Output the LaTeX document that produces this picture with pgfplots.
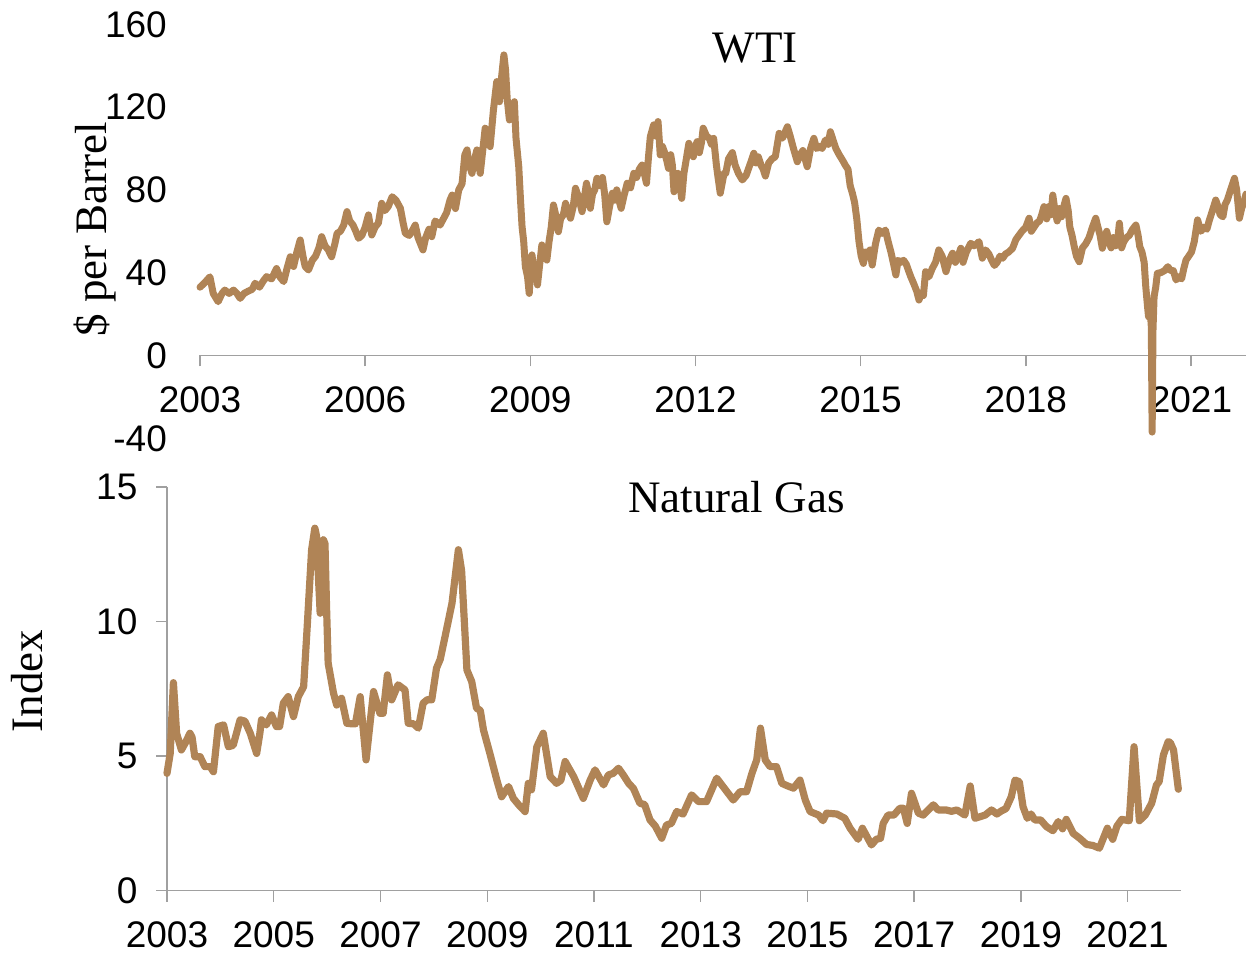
\documentclass[border=0pt]{standalone}
\usepackage{fontspec}
\setmainfont{Liberation Serif}
\newfontfamily\sansf{Liberation Sans}
\usepackage{pgfplots}
\pgfplotsset{compat=1.18}
\definecolor{oil}{RGB}{176,132,86}
\definecolor{axgray}{RGB}{160,160,160}
\pgfplotsset{
  common/.style={
    scale only axis,
    clip=false,
    /pgf/number format/assume math mode=true,
    /pgf/number format/1000 sep={},
    tick label style={font=\sansf\fontsize{18.5}{20}\selectfont},
    label style={font=\fontsize{22.5}{26}\selectfont},
    major tick length=5.5pt,
    tick align=outside,
    tick style={draw=axgray, line width=0.7pt},
    hide obscured x ticks=false,
    hide obscured y ticks=false,
  },
}
\begin{document}
\begin{tikzpicture}
\useasboundingbox (0,0) rectangle (623pt,476.5pt);
% ---------------- WTI ----------------
\begin{axis}[common,
  at={(100pt,257.35pt)}, anchor=south west,
  width=523pt, height=207pt,
  xmin=2003, xmax=2022, ymin=-40, ymax=160,
  axis x line=middle, axis y line=left,
  x axis line style={draw=axgray, line width=0.7pt, -},
  every inner x axis line/.append style={-},
  y axis line style={draw=none, -},
  ytick style={draw=none},
  xtick style={yshift=-2.75pt},
  xtick={2003,2006,2009,2012,2015,2018,2021},
  ytick={-40,0,40,80,120,160},
  xticklabel style={anchor=north, yshift=-9.3pt},
  yticklabel style={anchor=east, xshift=-10.3pt},
  ylabel={\$ per Barrel},
  ylabel style={at={(axis description cs:-0.1004,0.5055)}, anchor=center, rotate=0},
]
\addplot[oil, line width=3.5pt, line join=round, line cap=round] coordinates {
(2003.00,33) (2003.08,35) (2003.18,38) (2003.24,30) (2003.33,26) (2003.40,30) (2003.45,31.6) (2003.53,30) (2003.61,31.6) (2003.67,30) (2003.73,27.6) (2003.80,30) (2003.87,31) (2003.95,32)
(2004.00,34.9) (2004.08,33) (2004.15,36) (2004.21,38.1) (2004.30,37) (2004.39,42) (2004.45,38) (2004.52,35.7) (2004.58,42) (2004.64,47.7) (2004.70,43) (2004.76,50) (2004.82,55.8) (2004.87,48) (2004.91,43) (2004.97,41.3)
(2005.04,46) (2005.10,48) (2005.16,52) (2005.21,57.4) (2005.27,53) (2005.33,51) (2005.39,47.7) (2005.45,54) (2005.49,59) (2005.55,60) (2005.61,63) (2005.67,69.5) (2005.72,65) (2005.78,63) (2005.83,60) (2005.88,56.6) (2005.94,58)
(2006.00,62) (2006.06,67.9) (2006.12,58.2) (2006.18,62) (2006.24,64) (2006.30,73.5) (2006.36,70) (2006.42,72) (2006.49,76.7) (2006.56,75) (2006.64,71.1) (2006.69,64) (2006.73,59) (2006.80,58) (2006.85,60) (2006.91,63) (2006.96,57)
(2007.05,51) (2007.10,57) (2007.16,61) (2007.21,57.4) (2007.27,65) (2007.36,63) (2007.42,66) (2007.48,69) (2007.54,75) (2007.58,77.5) (2007.64,71) (2007.70,80) (2007.76,83) (2007.81,96.9) (2007.85,99.3) (2007.89,92) (2007.94,88) (2007.99,95)
(2008.03,99.3) (2008.09,88) (2008.14,100) (2008.18,109.8) (2008.23,106) (2008.27,100.9) (2008.33,118.6) (2008.39,132.3) (2008.44,122.6) (2008.48,135) (2008.52,145.2) (2008.55,138) (2008.58,124) (2008.62,113.8) (2008.66,118) (2008.71,122.6) (2008.74,105) (2008.79,91.2) (2008.82,76) (2008.85,62.2) (2008.88,55) (2008.91,42.9) (2008.95,38) (2008.98,30)
(2009.01,43) (2009.03,48.6) (2009.07,40) (2009.10,43) (2009.13,34.1) (2009.17,44) (2009.21,53.4) (2009.25,49) (2009.30,46.1) (2009.34,55) (2009.38,62) (2009.42,72.7) (2009.46,68) (2009.51,59.8) (2009.55,66) (2009.60,68) (2009.64,73.5) (2009.68,70) (2009.73,66.3) (2009.78,72) (2009.82,80.8) (2009.87,77) (2009.90,74) (2009.94,69.5) (2009.98,76)
(2010.02,83.2) (2010.06,78) (2010.09,71.1) (2010.13,78) (2010.17,80) (2010.21,85.6) (2010.27,82) (2010.31,86) (2010.35,78) (2010.39,64.6) (2010.44,72) (2010.49,78.4) (2010.53,75) (2010.57,80) (2010.61,75) (2010.65,71.1) (2010.70,77) (2010.76,83.2) (2010.82,81) (2010.88,88) (2010.93,86) (2010.98,90)
(2011.03,92) (2011.07,88) (2011.11,83.2) (2011.15,97) (2011.18,105.7) (2011.24,111.4) (2011.28,106) (2011.32,113) (2011.36,96.9) (2011.40,101) (2011.44,98) (2011.48,94) (2011.51,90.4) (2011.55,97) (2011.58,92) (2011.61,79.1) (2011.65,86) (2011.68,88) (2011.72,82) (2011.75,75.9) (2011.79,88) (2011.84,96) (2011.88,102.5) (2011.92,98) (2011.96,96)
(2012.00,101) (2012.03,103.3) (2012.07,98) (2012.11,103) (2012.14,109.8) (2012.20,106) (2012.25,105) (2012.29,102) (2012.33,104.9) (2012.38,92) (2012.41,86) (2012.45,78.4) (2012.49,84) (2012.52,88) (2012.55,88) (2012.60,95) (2012.67,98) (2012.72,92) (2012.78,88) (2012.85,84.8) (2012.92,87)
(2013.00,93) (2013.06,97.7) (2013.10,93) (2013.14,96) (2013.19,92) (2013.23,90) (2013.27,86.7) (2013.33,93) (2013.39,95) (2013.45,96) (2013.52,107.3) (2013.58,105) (2013.67,110.5) (2013.72,106) (2013.78,100) (2013.85,93.6) (2013.90,97) (2013.95,99)
(2014.03,91.2) (2014.09,100) (2014.15,104.9) (2014.20,100) (2014.25,101) (2014.30,100) (2014.36,104.1) (2014.41,102) (2014.45,108.1) (2014.50,104) (2014.55,100) (2014.61,97) (2014.67,94.4) (2014.72,92) (2014.77,90) (2014.81,82) (2014.85,78.4) (2014.89,74) (2014.93,66) (2014.97,55)
(2015.01,48) (2015.05,44.5) (2015.09,50) (2015.13,48) (2015.17,51) (2015.21,43.7) (2015.27,54) (2015.33,60.6) (2015.39,59) (2015.45,60.6) (2015.50,55) (2015.55,50) (2015.60,44) (2015.64,38.9) (2015.68,46) (2015.73,45) (2015.78,46) (2015.83,44) (2015.87,41) (2015.91,38.1) (2015.96,35)
(2016.02,31) (2016.06,26.8) (2016.10,30) (2016.14,29) (2016.18,40.5) (2016.24,38) (2016.30,42) (2016.36,45) (2016.42,51) (2016.48,48) (2016.55,40.5) (2016.61,46) (2016.67,49.4) (2016.72,45) (2016.77,48) (2016.82,51.8) (2016.86,45) (2016.92,50)
(2017.00,54.2) (2017.06,53) (2017.11,54) (2017.15,55) (2017.21,47) (2017.27,51) (2017.33,49) (2017.38,46) (2017.43,43.5) (2017.48,45) (2017.53,48) (2017.58,47) (2017.63,49) (2017.69,50) (2017.76,51.8) (2017.82,56) (2017.88,58.2) (2017.93,60)
(2018.00,62) (2018.06,66.3) (2018.10,60) (2018.15,62) (2018.20,64) (2018.25,65) (2018.29,68) (2018.33,71.9) (2018.38,66) (2018.42,72) (2018.46,68) (2018.49,77.5) (2018.53,70) (2018.57,65) (2018.61,71) (2018.65,67) (2018.69,72) (2018.73,75.9) (2018.77,70) (2018.80,62) (2018.84,58) (2018.88,52.6) (2018.92,48) (2018.97,45.3)
(2019.03,52) (2019.09,54) (2019.15,57) (2019.21,62) (2019.27,66.3) (2019.31,62) (2019.35,58) (2019.39,51.8) (2019.43,56) (2019.47,60) (2019.51,55) (2019.55,52) (2019.59,57) (2019.63,53) (2019.67,56) (2019.70,63.9) (2019.74,52) (2019.78,55) (2019.83,57) (2019.88,58) (2019.94,61)
(2020.00,63) (2020.04,58) (2020.07,52.6) (2020.11,50) (2020.15,45) (2020.18,33) (2020.21,24) (2020.23,18.7) (2020.26,22) (2020.28,14) (2020.295,-37) (2020.31,12) (2020.33,28.4) (2020.36,33) (2020.39,39.7) (2020.45,40) (2020.52,41) (2020.58,42.9) (2020.63,41) (2020.68,41) (2020.73,36.5) (2020.78,38) (2020.83,37) (2020.87,42) (2020.91,46.1) (2020.96,48)
(2021.01,50) (2021.06,55) (2021.12,65.5) (2021.18,60) (2021.24,62) (2021.29,61) (2021.33,65) (2021.39,70) (2021.45,75.1) (2021.49,72) (2021.53,68) (2021.58,67) (2021.62,73) (2021.66,75) (2021.72,80) (2021.79,85.6) (2021.83,80) (2021.88,66.3) (2021.92,71) (2021.96,74) (2022.00,78)
};
\node[font=\fontsize{22.5}{26}\selectfont, inner sep=0pt] at (axis description cs:0.5306,0.942) {WTI};
\end{axis}
% ---------------- Natural Gas ----------------
\begin{axis}[common,
  at={(83.5pt,31.15pt)}, anchor=south west,
  width=507pt, height=201.85pt,
  xmin=2003, xmax=2022, ymin=0, ymax=15,
  axis x line*=bottom, axis y line*=left,
  axis line style={draw=axgray, line width=0.7pt, -},
  xtick pos=bottom, ytick pos=left,
  xtick={2003,2005,...,2021},
  ytick={0,5,10,15},
  xticklabel style={yshift=-6.6pt},
  yticklabel style={xshift=-5.8pt},
  ylabel={Index},
  ylabel style={at={(axis description cs:-0.1376,0.519)}, anchor=center},
]
\addplot[oil, line width=3.6pt, line join=round, line cap=round] coordinates {
(2003.00,4.36) (2003.06,5.1) (2003.12,7.73) (2003.18,5.85) (2003.27,5.23) (2003.34,5.48) (2003.43,5.85) (2003.47,5.7) (2003.52,4.98) (2003.62,4.98) (2003.71,4.61) (2003.81,4.61) (2003.87,4.42) (2003.96,6.10)
(2004.06,6.16) (2004.15,5.35) (2004.24,5.4) (2004.37,6.35) (2004.46,6.3) (2004.56,5.85) (2004.68,5.1) (2004.74,5.85) (2004.77,6.35) (2004.86,6.16) (2004.96,6.53)
(2005.05,6.10) (2005.11,6.10) (2005.18,6.97) (2005.27,7.21) (2005.37,6.47) (2005.46,7.21) (2005.56,7.58) (2005.62,9.57) (2005.71,12.67) (2005.77,13.47) (2005.80,13.2) (2005.87,10.31) (2005.93,13.04) (2005.96,12.9) (2005.99,10.5)
(2006.02,8.45) (2006.12,7.34) (2006.18,6.90) (2006.27,7.15) (2006.37,6.22) (2006.46,6.2) (2006.53,6.2) (2006.62,7.21) (2006.73,4.86) (2006.87,7.40) (2006.99,6.59)
(2007.05,6.59) (2007.13,8.02) (2007.21,7.09) (2007.33,7.65) (2007.46,7.46) (2007.52,6.22) (2007.62,6.2) (2007.71,6.04) (2007.80,6.97) (2007.88,7.1) (2007.96,7.09)
(2008.05,8.27) (2008.12,8.6) (2008.21,9.44) (2008.34,10.68) (2008.46,12.67) (2008.52,11.9) (2008.62,8.20) (2008.71,7.77) (2008.80,6.78) (2008.87,6.7) (2008.93,5.97)
(2009.05,5.1) (2009.18,4.11) (2009.27,3.49) (2009.40,3.87) (2009.49,3.43) (2009.59,3.19) (2009.71,2.94) (2009.77,3.99) (2009.83,3.75) (2009.93,5.35)
(2010.05,5.85) (2010.18,4.24) (2010.30,3.99) (2010.38,4.1) (2010.46,4.80) (2010.62,4.24) (2010.80,3.43) (2010.93,4.11)
(2011.02,4.49) (2011.18,3.93) (2011.27,4.3) (2011.36,4.36) (2011.46,4.55) (2011.55,4.3) (2011.65,3.99) (2011.74,3.8) (2011.86,3.25) (2011.95,3.2)
(2012.05,2.63) (2012.15,2.4) (2012.27,1.95) (2012.36,2.44) (2012.45,2.5) (2012.55,2.94) (2012.67,2.85) (2012.83,3.56) (2012.96,3.31)
(2013.11,3.31) (2013.30,4.18) (2013.61,3.37) (2013.74,3.68) (2013.86,3.68) (2013.96,4.36)
(2014.05,4.86) (2014.12,6.04) (2014.21,4.86) (2014.30,4.61) (2014.42,4.61) (2014.52,3.99) (2014.62,3.9) (2014.74,3.81) (2014.86,4.11) (2014.96,3.37)
(2015.05,2.94) (2015.21,2.81) (2015.29,2.60) (2015.36,2.88) (2015.55,2.85) (2015.70,2.69) (2015.80,2.32) (2015.95,1.91)
(2016.03,2.32) (2016.20,1.70) (2016.29,1.91) (2016.37,1.95) (2016.42,2.50) (2016.51,2.81) (2016.62,2.81) (2016.73,3.06) (2016.80,3.06) (2016.87,2.50) (2016.95,3.62)
(2017.08,2.88) (2017.17,2.81) (2017.36,3.19) (2017.45,3.0) (2017.60,3.0) (2017.70,2.95) (2017.80,3.0) (2017.88,2.9) (2017.95,2.81)
(2018.05,3.89) (2018.14,2.69) (2018.33,2.81) (2018.45,3.0) (2018.55,2.85) (2018.64,2.97) (2018.72,3.05) (2018.82,3.49) (2018.89,4.11) (2018.97,4.05)
(2019.04,3.12) (2019.12,2.69) (2019.19,2.85) (2019.26,2.63) (2019.37,2.63) (2019.48,2.38) (2019.60,2.23) (2019.70,2.57) (2019.78,2.3) (2019.85,2.65) (2019.98,2.13)
(2020.10,1.95) (2020.23,1.72) (2020.35,1.68) (2020.47,1.58) (2020.62,2.32) (2020.72,1.91) (2020.80,2.4) (2020.89,2.65)
(2021.03,2.60) (2021.12,5.35) (2021.22,2.60) (2021.33,2.81) (2021.45,3.25) (2021.54,3.93) (2021.59,4.05) (2021.67,5.04) (2021.76,5.54) (2021.80,5.5) (2021.86,5.23) (2021.95,3.77)
};
\node[font=\fontsize{22.5}{26}\selectfont, inner sep=0pt] at (axis description cs:0.5616,0.976) {Natural Gas};
\end{axis}
\end{tikzpicture}
\end{document}
